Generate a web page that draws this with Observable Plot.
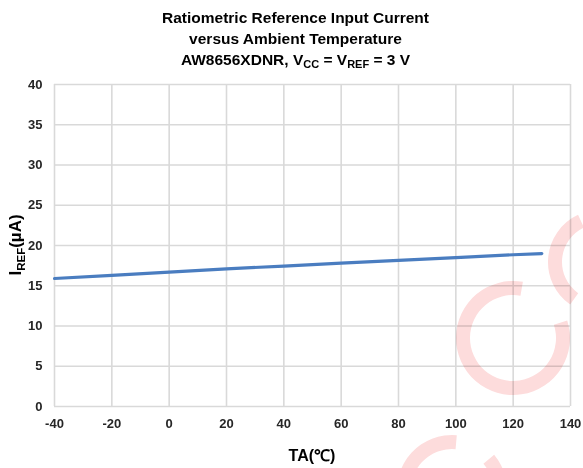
<!DOCTYPE html>
<html>
<head>
<meta charset="utf-8">
<script src="https://cdn.jsdelivr.net/npm/d3@7"></script>
<script src="https://cdn.jsdelivr.net/npm/@observablehq/plot@0.6"></script>
<style>
  html, body { margin: 0; padding: 0; background: #fff; }
  body { width: 583px; height: 468px; position: relative; overflow: hidden;
         font-family: "Liberation Sans", Arial, sans-serif; }
  #title { height: 72px; box-sizing: border-box; padding-top: 7px; text-align: center;
           font-weight: bold; font-size: 15.5px; line-height: 21px; color: #000; margin-left: 8px; }
  #title sub { font-size: 11px; vertical-align: -3px; line-height: 0; }
  #logo { position: absolute; left: 0; top: 0; pointer-events: none; mix-blend-mode: multiply; }
</style>
</head>
<body>
<div id="title">
  <div>Ratiometric Reference Input Current</div>
  <div>versus Ambient Temperature</div>
  <div>AW8656XDNR, V<sub>CC</sub> = V<sub>REF</sub> = 3 V</div>
</div>
<div id="chart"></div>
<script>
// Ambient temperature (°C) and the measured reference input current (µA)
const temperature = [-40, -20, 0, 20, 40, 60, 80, 100, 120, 130];
const irefMicroAmps = [15.9, 16.3, 16.7, 17.1, 17.45, 17.8, 18.15, 18.5, 18.85, 19.0];

// Axis ticks
const xTicks = [-40, -20, 0, 20, 40, 60, 80, 100, 120, 140];
const yTicks = [0, 5, 10, 15, 20, 25, 30, 35, 40];

const rows = temperature.map((t, i) => ({t, i: irefMicroAmps[i]}));
const plain = d => String(d);

const W = 583, H = 396;
const chart = Plot.plot({
  width: W,
  height: H,
  marginTop: 12,
  marginBottom: 62,
  marginLeft: 54,
  marginRight: 13,
  style: {fontFamily: "Liberation Sans, Arial, sans-serif", fontSize: "13px", fontWeight: "bold", color: "#262626", background: "transparent"},
  x: {domain: [-40, 140], ticks: xTicks, label: null},
  y: {domain: [0, 40], ticks: yTicks, label: null},
  marks: [
    Plot.gridX(xTicks, {stroke: "#d9d9d9", strokeOpacity: 1, strokeWidth: 1.6}),
    Plot.gridY(yTicks, {stroke: "#d9d9d9", strokeOpacity: 1, strokeWidth: 1.6}),
    Plot.axisX(xTicks, {tickSize: 0, tickPadding: 12, label: null, fill: "#262626", tickFormat: plain}),
    Plot.axisY(yTicks, {tickSize: 0, tickPadding: 12, label: null, fill: "#262626", tickFormat: plain}),
    Plot.line(rows, {x: "t", y: "i", stroke: "#4a7dc0", strokeWidth: 3.2, curve: "linear"})
  ]
});
document.getElementById("chart").appendChild(chart);

// Axis titles
const svg = d3.select(chart);
svg.append("text")
  .attr("x", 312).attr("y", 389)
  .attr("text-anchor", "middle")
  .attr("font-size", 16).attr("font-weight", "bold").attr("fill", "#000")
  .text("TA(℃)");

const yTitle = svg.append("text")
  .attr("transform", "translate(21,173) rotate(-90)")
  .attr("text-anchor", "middle")
  .attr("font-size", 17).attr("font-weight", "bold").attr("fill", "#000");
yTitle.append("tspan").text("I");
yTitle.append("tspan").attr("font-size", 11.5).attr("dy", 4).text("REF");
yTitle.append("tspan").attr("dy", -4).text("(µA)");

// Faint logo marks in the lower right corner
const logo = d3.select("body").append("svg")
  .attr("id", "logo").attr("width", 583).attr("height", 468);
const deg = Math.PI / 180;
const rings = [
  {cx: 513, cy: 338, r0: 43, r1: 57, a0: 72, a1: 370},
  {cx: 600, cy: 262, r0: 38, r1: 52, a0: 215, a1: 335},
  {cx: 452, cy: 490, r0: 41, r1: 55, a0: 50, a1: 365}
];
for (const g of rings) {
  logo.append("path")
    .attr("transform", `translate(${g.cx},${g.cy})`)
    .attr("d", d3.arc()({innerRadius: g.r0, outerRadius: g.r1, startAngle: g.a0 * deg, endAngle: g.a1 * deg}))
    .attr("fill", "#fddcdc");
}
</script>
</body>
</html>
